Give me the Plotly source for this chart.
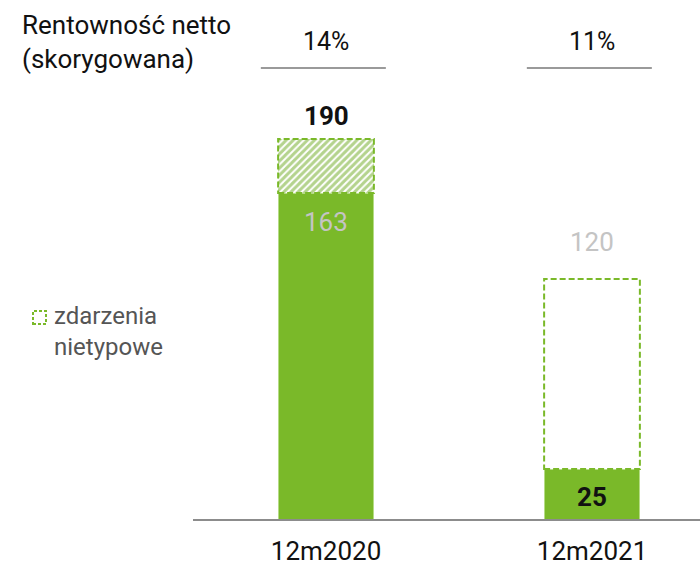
import plotly.graph_objects as go

categories = ["12m2020", "12m2021"]
reported = [163, 25]            # solid green part
adjusted_total = [190, 120]     # total incl. one-off events
margins = ["14%", "11%"]
hatched = [True, False]

oneoff = [t - r for t, r in zip(adjusted_total, reported)]

GREEN = "#7ab929"
FONT = "Roboto"
W, H = 700, 568
PLOT_BOTTOM = 519  # px
BAR_W = 0.36

def px(x):
    return x / W

def py(y):
    return (PLOT_BOTTOM - y) / PLOT_BOTTOM

xs = list(range(len(categories)))

fig = go.Figure()
fig.add_trace(go.Bar(
    x=xs, y=reported, width=BAR_W,
    marker=dict(color=GREEN, line=dict(width=1, color="#b5dc85")),
    hoverinfo="skip", showlegend=False,
))
fig.add_trace(go.Bar(
    x=xs, y=oneoff, width=BAR_W,
    marker=dict(
        color="white",
        line=dict(width=0),
        pattern=dict(shape=["/" if h else "" for h in hatched],
                     fgcolor="#6aa81c", bgcolor="white", size=5, solidity=0.6),
    ),
    hoverinfo="skip", showlegend=False,
))

shapes = []
annotations = []
for i, (r, t, m) in enumerate(zip(reported, adjusted_total, margins)):
    shapes.append(dict(type="rect", xref="x", yref="y",
                       x0=i - BAR_W / 2, x1=i + BAR_W / 2, y0=r, y1=t,
                       line=dict(color=GREEN, width=2, dash="6px,3px")))
    shapes.append(dict(type="line", xref="x", yref="paper",
                       x0=i - 0.245, x1=i + 0.225, y0=py(68), y1=py(68),
                       line=dict(color="#9a9a9a", width=2)))
    annotations.append(dict(x=i, y=py(42), xref="x", yref="paper", text=m,
                            showarrow=False, yanchor="middle",
                            font=dict(family=FONT, size=25, color="#111")))
    if hatched[i]:
        annotations.append(dict(x=i, y=t, xref="x", yref="y", text="<b>%d</b>" % t,
                                showarrow=False, yanchor="bottom", yshift=6,
                                font=dict(family=FONT, size=26, color="#111")))
        annotations.append(dict(x=i, y=r, xref="x", yref="y", text="%d" % r,
                                showarrow=False, yanchor="top", yshift=-12,
                                font=dict(family=FONT, size=26, color="#c4c4c4")))
    else:
        annotations.append(dict(x=i, y=t, xref="x", yref="y", text="%d" % t,
                                showarrow=False, yanchor="bottom", yshift=20,
                                font=dict(family=FONT, size=26, color="#c4c4c4")))
        annotations.append(dict(x=i, y=r / 2, xref="x", yref="y", text="<b>%d</b>" % r,
                                showarrow=False, yanchor="middle", yshift=-3,
                                font=dict(family=FONT, size=26, color="#111")))

annotations.append(dict(x=px(20), y=py(8), xref="paper", yref="paper",
                        text="Rentowność netto<br>(skorygowana)", align="left",
                        xanchor="left", yanchor="top", showarrow=False,
                        font=dict(family=FONT, size=26, color="#111")))
shapes.append(dict(type="rect", xref="paper", yref="paper",
                   x0=px(33), x1=px(46), y0=py(324), y1=py(311),
                   line=dict(color=GREEN, width=2, dash="3px,2px")))
annotations.append(dict(x=px(52), y=py(300), xref="paper", yref="paper",
                        text="zdarzenia<br>nietypowe", align="left",
                        xanchor="left", yanchor="top", showarrow=False,
                        font=dict(family=FONT, size=24, color="#555")))

fig.update_layout(
    width=W, height=H,
    margin=dict(l=0, r=0, t=0, b=H - PLOT_BOTTOM, pad=0),
    barmode="stack",
    plot_bgcolor="white", paper_bgcolor="white",
    shapes=shapes, annotations=annotations,
    xaxis=dict(domain=[193 / W, 1], range=[-0.5, 1.406],
               tickmode="array", tickvals=xs, ticktext=categories,
               tickfont=dict(family=FONT, size=26, color="#111"),
               showline=True, linecolor="#8c8c8c", linewidth=2,
               ticks="outside", ticklen=8, tickcolor="rgba(0,0,0,0)",
               automargin=False,
               showgrid=False, zeroline=False),
    yaxis=dict(range=[0, PLOT_BOTTOM / 2], visible=False, showgrid=False),
)

fig.write_html("out.html", config={"displayModeBar": False},
               post_script="document.body.style.margin='0px';document.body.style.overflow='hidden';")
